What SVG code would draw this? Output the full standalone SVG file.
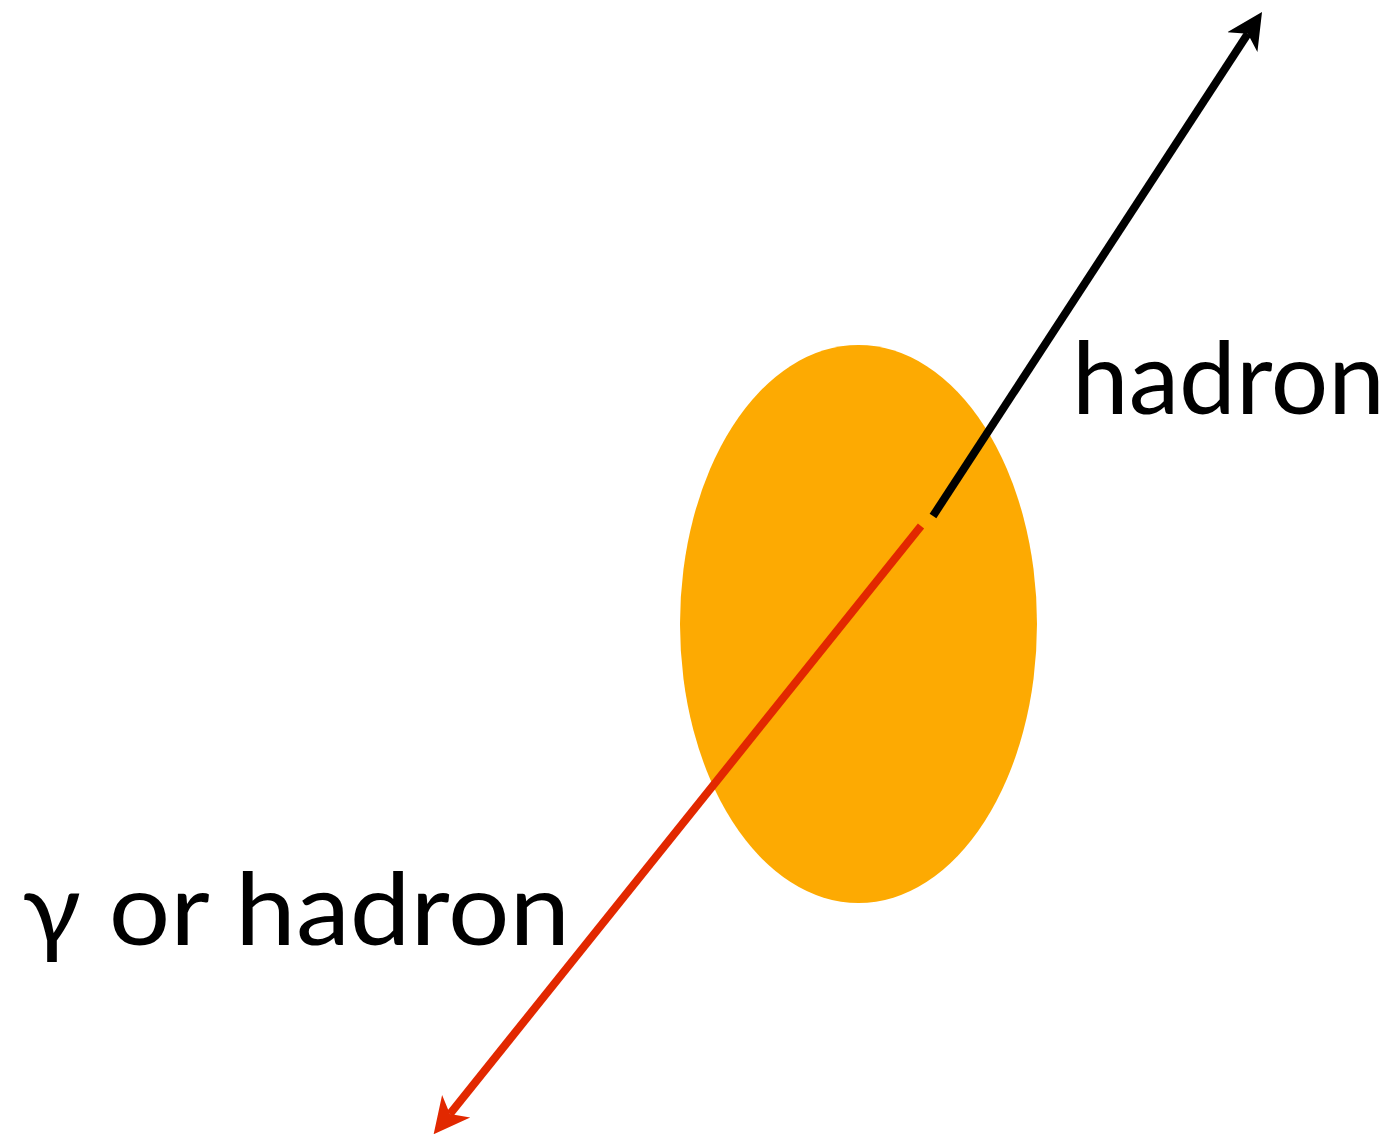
<svg xmlns="http://www.w3.org/2000/svg" width="1392" height="1136" viewBox="0 0 1392 1136">
<style>
.lbl{font-family:Lato,"Open Sans","Liberation Sans",sans-serif;font-size:100px;fill:#000}
</style>
<defs>
<marker id="ahb" viewBox="0 0 36 38" refX="10" refY="19" markerWidth="36" markerHeight="38" markerUnits="userSpaceOnUse" orient="auto">
<path d="M0,1 L36,19 L0,37 L10,19 Z" fill="#000"/>
</marker>
<marker id="ahr" viewBox="0 0 36 38" refX="10" refY="19" markerWidth="36" markerHeight="38" markerUnits="userSpaceOnUse" orient="auto">
<path d="M0,1 L36,19 L0,37 L10,19 Z" fill="#E22800"/>
</marker>
</defs>
<g id="blob">
<ellipse cx="858.5" cy="624" rx="178.5" ry="279" fill="#FDAA02"/>
</g>
<g id="connectors">
<line x1="933" y1="516" x2="1247.8" y2="33.8" stroke="#000" stroke-width="8" marker-end="url(#ahb)"/>
<line x1="921" y1="526" x2="449.9" y2="1114" stroke="#E22800" stroke-width="8" marker-end="url(#ahr)"/>
</g>
<g id="label-hadron">
<text class="lbl" x="1072" y="414" textLength="313" lengthAdjust="spacingAndGlyphs">hadron</text>
</g>
<g id="label-gamma">
<text class="lbl" x="22" y="945" textLength="548" lengthAdjust="spacingAndGlyphs">γ or hadron</text>
</g>
</svg>
